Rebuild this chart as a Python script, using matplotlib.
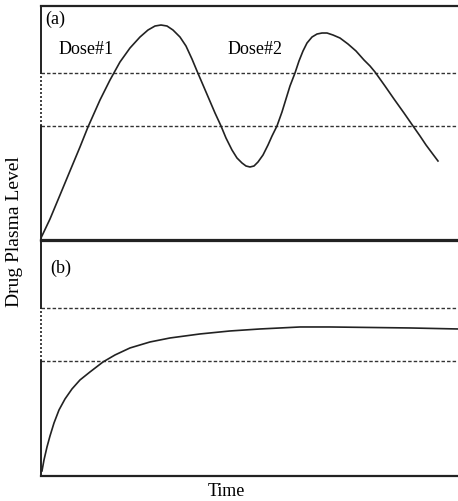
import matplotlib
matplotlib.use('Agg')
import matplotlib.pyplot as plt

plt.rcParams['font.family'] = ['Liberation Serif', 'DejaVu Serif']

# panel (a): two separate doses, level (time 0-100, level 0-100)
t_a = [0, 2.16, 4.56, 6.95, 9.35, 11.27, 14.15, 16.55, 18.94, 21.34,
       23.74, 25.66, 27.34, 28.78, 30.22, 31.65, 33.33, 34.77, 36.21, 37.41,
       38.85, 40.29, 41.73, 43.17, 44.36, 45.80, 47.00, 48.20, 49.16, 50.12,
       51.08, 52.04, 53.24, 54.44, 55.40, 56.59, 57.79, 58.75, 59.71, 60.91,
       61.87, 62.83, 63.79, 64.99, 66.19, 67.39, 68.59, 70.02, 71.70, 73.62,
       75.54, 77.46, 78.90, 80.10, 82.49, 84.65, 87.05, 89.21, 90.89, 92.33,
       93.76, 95.20]
lvl_a = [0.85, 8.97, 19.23, 29.49, 39.74, 48.29, 59.83, 68.38, 76.07, 82.05,
         86.75, 89.74, 91.45, 91.88, 91.45, 89.74, 86.75, 82.91, 77.35, 72.22,
         66.24, 60.26, 54.27, 48.72, 43.59, 38.46, 35.04, 32.91, 31.62, 31.20,
         31.62, 33.33, 36.32, 40.60, 44.44, 48.72, 54.70, 60.26, 65.81, 71.37,
         76.50, 80.77, 84.19, 86.75, 88.03, 88.46, 88.46, 87.61, 86.32, 83.76,
         80.77, 76.92, 74.36, 71.79, 65.81, 60.26, 54.27, 48.72, 44.44, 40.60,
         37.18, 33.76]
window_a = [48.7, 71.4]

# panel (b): controlled release
t_b = [0.24, 0.72, 1.44, 2.16, 3.12, 4.32, 5.76, 7.43, 9.35, 11.75, 14.87, 17.75,
       21.34, 26.14, 30.94, 38.13, 45.32, 52.52, 62.11, 69.30, 78.90, 88.49, 100]
lvl_b = [2.13, 6.81, 12.34, 17.02, 22.55, 28.09, 32.77, 37.02, 40.85, 44.26, 48.51,
         51.49, 54.47, 57.02, 58.72, 60.43, 61.70, 62.55, 63.40, 63.40, 63.19, 62.98,
         62.55]
window_b = [48.9, 71.5]

fig = plt.figure(figsize=(4.58, 5.01), dpi=100)
ax_a = fig.add_axes([0.0895, 0.521, 0.9105, 0.467])
ax_b = fig.add_axes([0.0895, 0.050, 0.9105, 0.469])

def style_panel(ax, t, lvl, window):
    ax.set_xlim(0, 100)
    ax.set_ylim(0, 100)
    ax.set_xticks([])
    ax.set_yticks([])
    ax.spines['right'].set_visible(False)
    ax.spines['left'].set_visible(False)
    for side in ['top', 'bottom']:
        ax.spines[side].set_linewidth(1.6)
        ax.spines[side].set_color('#222222')
    for lv in window:
        ax.axhline(lv, color='#333333', lw=1.0, dashes=(2.5, 1.5))
    lo, hi = window
    # left edge: solid except dotted between the two limits
    ax.plot([0, 0], [0, lo], color='#222222', lw=1.4, clip_on=False)
    ax.plot([0, 0], [lo, hi], color='#222222', lw=1.2, dashes=(1.2, 1.2), clip_on=False)
    ax.plot([0, 0], [hi, 100], color='#222222', lw=1.4, clip_on=False)
    ax.plot(t, lvl, color='#222222', lw=1.2, solid_joinstyle='round')

style_panel(ax_a, t_a, lvl_a, window_a)
style_panel(ax_b, t_b, lvl_b, window_b)

ax_a.text(1.0, 94.4, '(a)', fontsize=13, ha='left', va='center')
ax_a.text(4.1, 81.2, 'Dose#1', fontsize=13, ha='left', va='center')
ax_a.text(44.8, 81.2, 'Dose#2', fontsize=13, ha='left', va='center')
ax_b.text(2.2, 88.5, '(b)', fontsize=13, ha='left', va='center')

fig.text(15 / 458, 1 - 232 / 501, 'Drug Plasma Level', rotation=90,
         fontsize=14, ha='center', va='center')
fig.text(226 / 458, 1 - 491 / 501, 'Time', fontsize=13, ha='center', va='center')

fig.savefig('out.png', dpi=100)
